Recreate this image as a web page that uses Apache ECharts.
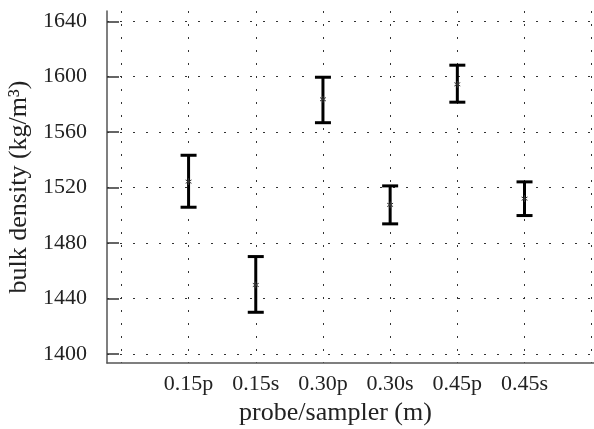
<!DOCTYPE html>
<html>
<head>
<meta charset="utf-8">
<script src="https://cdn.jsdelivr.net/npm/echarts@6/dist/echarts.min.js"></script>
<style>
    html, body { margin: 0; padding: 0; background: #fff; }
    #chart { width: 594px; height: 429px; }
</style>
</head>
<body>
<div id="chart"></div>
<script>
// probe/sampler positions and bulk density readings
const categories = ['0.15p', '0.15s', '0.30p', '0.30s', '0.45p', '0.45s']
const meanDensity = [1524.3, 1449.7, 1583.7, 1507.5, 1594.5, 1512.0]
const upperDensity = [1543.3, 1470.2, 1599.6, 1521.2, 1608.3, 1524.1]
const lowerDensity = [1505.8, 1430.0, 1566.8, 1493.8, 1581.6, 1499.8]
const yTicks = [1400, 1440, 1480, 1520, 1560, 1600, 1640]
const xGridTicks = [0, 1, 2, 3, 4, 5, 6, 7]
const xLabelTicks = [1, 2, 3, 4, 5, 6]

const FONT = '"Liberation Serif", "DejaVu Serif", serif'

// [x, mean, low, high]
const errData = categories.map((c, i) => [i + 1, meanDensity[i], lowerDensity[i], upperDensity[i]])

function renderErrorBar(params, api) {
    const x = api.value(0)
    const mid = api.coord([x, api.value(1)])
    const lo = api.coord([x, api.value(2)])
    const hi = api.coord([x, api.value(3)])
    const cap = 8
    const barStyle = { stroke: '#000', lineWidth: 3 }
    const r = 3.4
    const markStyle = { stroke: '#333', lineWidth: 1 }
    // asterisk mark: three strokes through the mean
    const star = [90, 30, 150].map(a => {
        const rad = a * Math.PI / 180
        const dx = Math.cos(rad) * r
        const dy = Math.sin(rad) * r
        return {
            type: 'line',
            shape: { x1: mid[0] - dx, y1: mid[1] + dy, x2: mid[0] + dx, y2: mid[1] - dy },
            style: markStyle
        }
    })
    return {
        type: 'group',
        children: [
            { type: 'line', shape: { x1: lo[0], y1: lo[1], x2: hi[0], y2: hi[1] }, style: barStyle },
            { type: 'line', shape: { x1: hi[0] - cap, y1: hi[1], x2: hi[0] + cap, y2: hi[1] }, style: barStyle },
            { type: 'line', shape: { x1: lo[0] - cap, y1: lo[1], x2: lo[0] + cap, y2: lo[1] }, style: barStyle }
        ].concat(star)
    }
}

const chart = echarts.init(document.getElementById('chart'), null, { renderer: 'canvas' })

const gridLine = { lineStyle: { color: '#333', width: 1, type: [2, 11] } }

chart.setOption({
    animation: false,
    grid: { left: 107, right: 0, top: 11, bottom: 66, containLabel: false, outerBoundsMode: 'none' },
    xAxis: {
        type: 'value',
        min: -0.214,
        max: 7.034,
        axisLine: { show: true, onZero: false, lineStyle: { color: '#555', width: 1.5 } },
        axisTick: { show: true, length: 0, customValues: xGridTicks, lineStyle: { opacity: 0 } },
        splitLine: Object.assign({ show: true, showMinLine: true, showMaxLine: true }, gridLine),
        axisLabel: {
            color: '#222',
            fontFamily: FONT,
            fontSize: 22,
            margin: 10,
            customValues: xLabelTicks,
            formatter: v => categories[Math.round(v) - 1] || ''
        },
        name: 'probe/sampler (m)',
        nameLocation: 'middle',
        nameGap: 36,
        nameTextStyle: { color: '#222', fontFamily: FONT, fontSize: 26, padding: [0, 30, 0, 0] }
    },
    yAxis: {
        type: 'value',
        min: 1393.4,
        max: 1647.4,
        axisLine: { show: true, onZero: false, lineStyle: { color: '#555', width: 1.5 } },
        axisTick: { show: true, inside: true, length: 12, customValues: yTicks, lineStyle: { color: '#333', width: 1.5 } },
        splitLine: Object.assign({ show: true, showMinLine: true, showMaxLine: true }, gridLine),
        axisLabel: {
            color: '#222',
            fontFamily: FONT,
            fontSize: 22,
            margin: 20,
            customValues: yTicks,
            formatter: v => String(v)
        },
        name: 'bulk density (kg/m³)',
        nameLocation: 'middle',
        nameRotate: 90,
        nameGap: 68,
        nameTextStyle: { color: '#222', fontFamily: FONT, fontSize: 26 }
    },
    series: [{
        type: 'custom',
        renderItem: renderErrorBar,
        encode: { x: 0, y: [1, 2, 3] },
        data: errData,
        clip: false
    }]
})
</script>
</body>
</html>
